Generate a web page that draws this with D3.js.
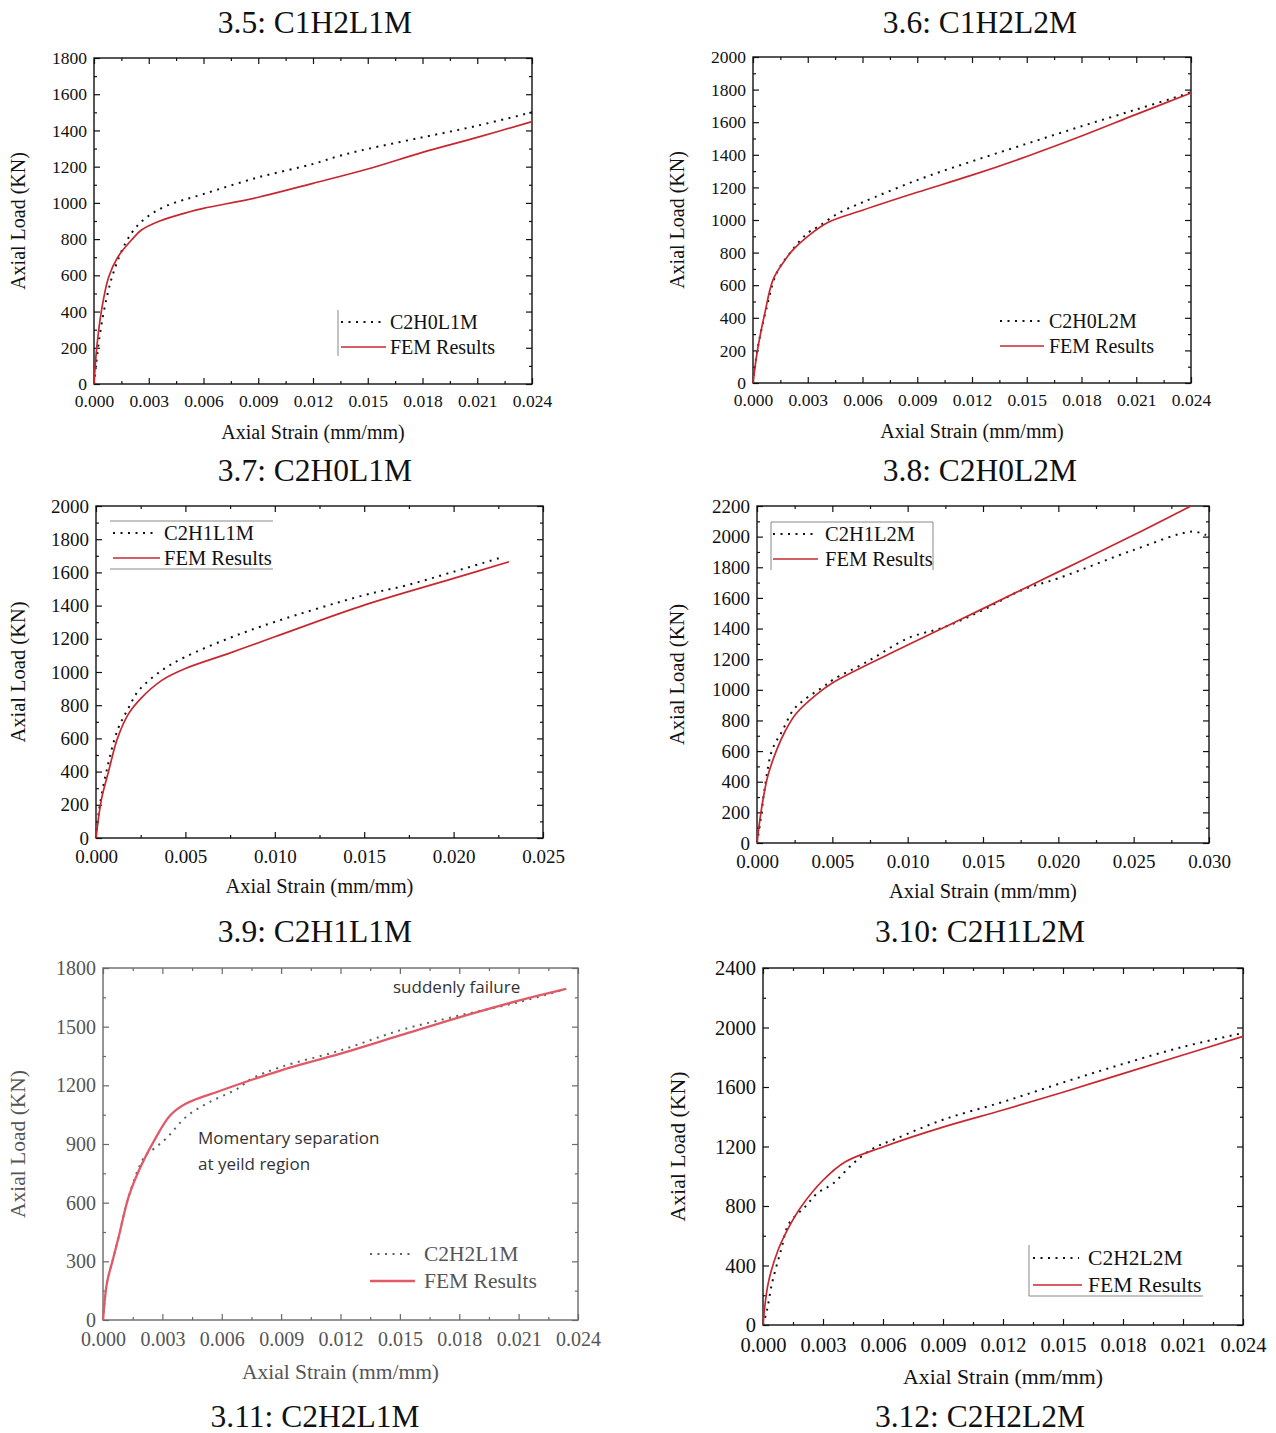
<!DOCTYPE html>
<html>
<head>
<meta charset="utf-8">
<script src="https://cdn.jsdelivr.net/npm/d3@7"></script>
<style>
  html, body { margin: 0; padding: 0; background: #fff; }
  svg { display: block; }
</style>
</head>
<body>
<svg id="chart" width="1276" height="1433"></svg>
<script>
// ---------- DATA ----------
const captions = ["3.5: C1H2L1M", "3.6: C1H2L2M", "3.7: C2H0L1M", "3.8: C2H0L2M",
                  "3.9: C2H1L1M", "3.10: C2H1L2M", "3.11: C2H2L1M", "3.12: C2H2L2M"];
const expNames = ["C2H0L1M", "C2H0L2M", "C2H1L1M", "C2H1L2M", "C2H2L1M", "C2H2L2M"];
const femName = "FEM Results";

// Panel 1: C2H0L1M
const p1Exp = [[0,0],[0.0003,258],[0.0007,479],[0.0011,626],[0.0017,773],[0.0023,865],[0.003,929],
  [0.004,985],[0.006,1049],[0.009,1141],[0.012,1215],[0.0134,1258],[0.015,1298],[0.018,1362],[0.021,1426],[0.024,1500]];
const p1Fem = [[0,0],[0.00015,200],[0.0004,400],[0.0008,590],[0.0013,700],[0.0021,800],[0.0026,850],[0.0036,900],
  [0.0052,950],[0.006,970],[0.009,1031],[0.012,1108],[0.015,1187],[0.018,1279],[0.021,1362],[0.024,1449]];
// Panel 2: C2H0L2M
const p2Exp = [[0,0],[0.00025,210],[0.0007,440],[0.0013,675],[0.0022,822],[0.003,920],[0.0036,961],
  [0.0047,1043],[0.006,1108],[0.009,1245],[0.012,1360],[0.015,1468],[0.018,1575],[0.021,1678],[0.0235,1765],[0.024,1785]];
const p2Fem = [[0,0],[0.00025,204],[0.00065,429],[0.0011,634],[0.0017,746],[0.0022,818],[0.003,900],
  [0.0041,985],[0.006,1060],[0.009,1170],[0.012,1275],[0.015,1390],[0.018,1515],[0.021,1648],[0.024,1779]];
// Panel 3: C2H1L1M
const p3Exp = [[0,0],[0.00017,167],[0.0006,408],[0.0012,649],[0.0018,780],[0.0024,890],[0.0037,1011],
  [0.005,1091],[0.0074,1202],[0.010,1302],[0.015,1463],[0.0174,1523],[0.020,1604],[0.0228,1694]];
const p3Fem = [[0,0],[0.0003,230],[0.0007,400],[0.0012,600],[0.0018,745],[0.0025,840],[0.0037,951],
  [0.005,1021],[0.0074,1111],[0.010,1212],[0.015,1403],[0.020,1564],[0.0231,1664]];
// Panel 4: C2H1L2M
const p4Exp = [[0,0],[0.0002,126],[0.00056,388],[0.001,606],[0.0017,736],[0.0024,867],[0.0031,932],
  [0.0044,1020],[0.005,1063],[0.0073,1183],[0.010,1336],[0.0125,1412],[0.015,1521],[0.0176,1652],
  [0.020,1728],[0.025,1913],[0.0289,2033],[0.0298,2010]];
const p4Fem = [[0,0],[0.00025,192],[0.0007,431],[0.0013,606],[0.0019,736],[0.0026,845],[0.0039,965],
  [0.005,1045],[0.010,1292],[0.015,1530],[0.020,1770],[0.025,2010],[0.0288,2200]];
// Panel 5: C2H2L1M
const p5Exp = [[0,0],[0.0002,190],[0.0005,309],[0.0008,428],[0.0013,632],[0.0021,835],[0.0026,878],
  [0.0032,929],[0.0042,1039],[0.0054,1115],[0.0068,1183],[0.0075,1234],[0.009,1294],[0.012,1379],
  [0.015,1481],[0.018,1557],[0.021,1625],[0.0234,1693]];
const p5Fem = [[0,0],[0.0002,190],[0.0005,309],[0.0008,428],[0.0013,632],[0.0019,784],[0.0026,920],
  [0.0034,1047],[0.0042,1107],[0.006,1175],[0.009,1277],[0.012,1362],[0.015,1455],[0.018,1548],
  [0.021,1633],[0.0234,1693]];
// Panel 6: C2H2L2M
const p6Exp = [[0,0],[0.0002,100],[0.00045,280],[0.0009,503],[0.0013,682],[0.0021,794],[0.0027,884],
  [0.0035,951],[0.0045,1085],[0.0055,1186],[0.0066,1250],[0.009,1380],[0.012,1500],[0.015,1630],
  [0.018,1755],[0.021,1870],[0.0238,1957]];
const p6Fem = [[0,0],[0.00026,280],[0.00075,503],[0.0013,660],[0.0019,794],[0.003,973],[0.0041,1096],
  [0.006,1197],[0.009,1330],[0.012,1445],[0.015,1565],[0.018,1690],[0.021,1815],[0.024,1940]];

// Tick values
const xTicks024 = [0, 0.003, 0.006, 0.009, 0.012, 0.015, 0.018, 0.021, 0.024];
const xTicks025 = [0, 0.005, 0.010, 0.015, 0.020, 0.025];
const xTicks030 = [0, 0.005, 0.010, 0.015, 0.020, 0.025, 0.030];
const yTicks1800 = [0, 200, 400, 600, 800, 1000, 1200, 1400, 1600, 1800];
const yTicks2000 = [0, 200, 400, 600, 800, 1000, 1200, 1400, 1600, 1800, 2000];
const yTicks2200 = [0, 200, 400, 600, 800, 1000, 1200, 1400, 1600, 1800, 2000, 2200];
const yTicks1800b = [0, 300, 600, 900, 1200, 1500, 1800];
const yTicks2400 = [0, 400, 800, 1200, 1600, 2000, 2400];

const annotations5 = ["suddenly failure", "Momentary separation", "at yeild region"];

// ---------- LAYOUT / STYLE ----------
const svg = d3.select("#chart");
const SERIF = "'Liberation Serif', 'Times New Roman', serif";
const SANS = "'Open Sans', 'Liberation Sans', sans-serif";

svg.append("rect").attr("width", 1276).attr("height", 1433).attr("fill", "#fff");

const captionPos = [[315,22],[980,22],[315,470],[980,470],[315,931],[980,931],[315,1416],[980,1416]];
captions.forEach((c, i) => {
  svg.append("text").attr("x", captionPos[i][0]).attr("y", captionPos[i][1])
    .attr("text-anchor", "middle").attr("dominant-baseline", "central")
    .style("font-family", SERIF).style("font-size", "31.5px").attr("fill", "#111").text(c);
});

const panels = [
  { L:94, R:532, T:58, B:384, xMax:0.024, yMax:1800, xT:xTicks024, yT:yTicks1800, xMinor:0.0015, yMinor:100,
    exp:p1Exp, fem:p1Fem, name:expNames[0], fs:17.5, tfs:20, xPad:11, xTitleY:432, yTitleX:18,
    leg:{x0:341, xd:382, x1:386, tx:390, y1:322, y2:347, fs:20}, legLines:[[338,310,338,356]] },
  { L:753, R:1191, T:57, B:383, xMax:0.024, yMax:2000, xT:xTicks024, yT:yTicks2000, xMinor:0.0015, yMinor:100,
    exp:p2Exp, fem:p2Fem, name:expNames[1], fs:17.5, tfs:20, xPad:11, xTitleY:431, yTitleX:677,
    leg:{x0:1000, xd:1040, x1:1044, tx:1049, y1:321, y2:346, fs:20}, legLines:[] },
  { L:96, R:543, T:506, B:838, xMax:0.025, yMax:2000, xT:xTicks025, yT:yTicks2000, xMinor:0.0025, yMinor:100,
    exp:p3Exp, fem:p3Fem, name:"C2H1L1M", fs:19, tfs:20.5, xPad:11.5, xTitleY:886, yTitleX:18,
    leg:{x0:113, xd:154, x1:160, tx:164, y1:533, y2:558, fs:20.5}, legLines:[[110,521,273,521],[110,569,273,569]] },
  { L:757, R:1209, T:506, B:843, xMax:0.030, yMax:2200, xT:xTicks030, yT:yTicks2200, xMinor:0.0025, yMinor:100,
    exp:p4Exp, fem:p4Fem, name:expNames[3], fs:19, tfs:20.5, xPad:11.5, xTitleY:891, yTitleX:677,
    leg:{x0:773, xd:816, x1:818, tx:825, y1:534, y2:559, fs:20.5}, legLines:[[771,522,771,570],[771,522,933,522],[933,522,933,570]] },
  { L:103, R:578, T:968, B:1320, xMax:0.024, yMax:1800, xT:xTicks024, yT:yTicks1800b, xMinor:0.0015, yMinor:150,
    exp:p5Exp, fem:p5Fem, name:"C2H2L1M", fs:20, tfs:21.5, xPad:12, xTitleY:1372, yTitleX:18, faded:true,
    leg:{x0:370, xd:413, x1:415, tx:424, y1:1254, y2:1281, fs:21.5}, legLines:[] },
  { L:763, R:1243, T:968, B:1325, xMax:0.024, yMax:2400, xT:xTicks024, yT:yTicks2400, xMinor:0.0015, yMinor:200,
    exp:p6Exp, fem:p6Fem, name:expNames[5], fs:20.5, tfs:21.8, xPad:12, xTitleY:1377, yTitleX:678,
    leg:{x0:1033, xd:1079, x1:1082, tx:1088, y1:1258, y2:1285, fs:21.6}, legLines:[[1029,1245,1029,1296],[1029,1296,1203,1296]] }
];

function drawPanel(p) {
  const axisColor = p.faded ? "#6a6a6a" : "#111";
  const textColor = p.faded ? "#555" : "#111";
  const redColor = p.faded ? "#e05a68" : "#c62830";
  const dotColor = p.faded ? "#556655" : "#111";

  const x = d3.scaleLinear().domain([0, p.xMax]).range([p.L, p.R]);
  const y = d3.scaleLinear().domain([0, p.yMax]).range([p.B, p.T]);
  const g = svg.append("g");

  const xMinorVals = d3.range(0, p.xMax + 1e-9, p.xMinor).filter(v => !p.xT.some(t => Math.abs(t - v) < 1e-9));
  const yMinorVals = d3.range(0, p.yMax + 1e-9, p.yMinor).filter(v => !p.yT.includes(v));

  function styleAxis(sel, showLabels) {
    sel.select(".domain").remove();
    sel.selectAll(".tick line").attr("stroke", axisColor).attr("stroke-width", 1.2);
    sel.selectAll(".tick text").style("font-family", SERIF).style("font-size", p.fs + "px")
      .attr("fill", textColor);
    if (!showLabels) sel.selectAll(".tick text").remove();
  }

  // bottom
  g.append("g").attr("transform", `translate(0,${p.B})`)
    .call(d3.axisBottom(x).tickValues(p.xT).tickFormat(d3.format(".3f")).tickSize(-6).tickPadding(p.xPad))
    .call(s => styleAxis(s, true));
  g.append("g").attr("transform", `translate(0,${p.B})`)
    .call(d3.axisBottom(x).tickValues(xMinorVals).tickSize(-3)).call(s => styleAxis(s, false));
  // top
  g.append("g").attr("transform", `translate(0,${p.T})`)
    .call(d3.axisTop(x).tickValues(p.xT).tickSize(-6)).call(s => styleAxis(s, false));
  g.append("g").attr("transform", `translate(0,${p.T})`)
    .call(d3.axisTop(x).tickValues(xMinorVals).tickSize(-3)).call(s => styleAxis(s, false));
  // left
  g.append("g").attr("transform", `translate(${p.L},0)`)
    .call(d3.axisLeft(y).tickValues(p.yT).tickFormat(d3.format("d")).tickSize(-6).tickPadding(7))
    .call(s => styleAxis(s, true));
  g.append("g").attr("transform", `translate(${p.L},0)`)
    .call(d3.axisLeft(y).tickValues(yMinorVals).tickSize(-3)).call(s => styleAxis(s, false));
  // right
  g.append("g").attr("transform", `translate(${p.R},0)`)
    .call(d3.axisRight(y).tickValues(p.yT).tickSize(-6)).call(s => styleAxis(s, false));
  g.append("g").attr("transform", `translate(${p.R},0)`)
    .call(d3.axisRight(y).tickValues(yMinorVals).tickSize(-3)).call(s => styleAxis(s, false));

  // frame
  g.append("rect").attr("x", p.L).attr("y", p.T).attr("width", p.R - p.L).attr("height", p.B - p.T)
    .attr("fill", "none").attr("stroke", axisColor).attr("stroke-width", 1.4);

  // curves
  const line = d3.line().x(d => x(d[0])).y(d => y(d[1])).curve(d3.curveCatmullRom.alpha(0.5));
  g.append("path").datum(p.exp).attr("d", line).attr("fill", "none")
    .attr("stroke", dotColor).attr("stroke-width", 2).attr("stroke-dasharray", "2,5.5");
  g.append("path").datum(p.fem).attr("d", line).attr("fill", "none")
    .attr("stroke", redColor).attr("stroke-width", p.faded ? 2.3 : 1.7);

  // axis titles
  g.append("text").attr("x", (p.L + p.R) / 2).attr("y", p.xTitleY)
    .attr("text-anchor", "middle").attr("dominant-baseline", "central")
    .style("font-family", SERIF).style("font-size", p.tfs + "px").attr("fill", textColor)
    .text("Axial Strain (mm/mm)");
  g.append("text").attr("transform", `translate(${p.yTitleX},${(p.T + p.B) / 2}) rotate(-90)`)
    .attr("text-anchor", "middle").attr("dominant-baseline", "central")
    .style("font-family", SERIF).style("font-size", p.tfs + "px").attr("fill", textColor)
    .text("Axial Load (KN)");

  // legend
  const lg = p.leg;
  p.legLines.forEach(l => g.append("line").attr("x1", l[0]).attr("y1", l[1]).attr("x2", l[2]).attr("y2", l[3])
    .attr("stroke", "#888").attr("stroke-width", 1));
  g.append("line").attr("x1", lg.x0).attr("x2", lg.xd).attr("y1", lg.y1).attr("y2", lg.y1)
    .attr("stroke", dotColor).attr("stroke-width", 2).attr("stroke-dasharray", "2,5.5");
  g.append("line").attr("x1", lg.x0).attr("x2", lg.x1).attr("y1", lg.y2).attr("y2", lg.y2)
    .attr("stroke", redColor).attr("stroke-width", p.faded ? 2.3 : 1.7);
  [[p.name, lg.y1], [femName, lg.y2]].forEach(([t, yy]) => {
    g.append("text").attr("x", lg.tx).attr("y", yy).attr("dominant-baseline", "central")
      .style("font-family", SERIF).style("font-size", lg.fs + "px").attr("fill", textColor).text(t);
  });
}

panels.forEach(drawPanel);

// annotations on panel 5
const annPos = [[393, 986], [198, 1137], [198, 1163]];
annotations5.forEach((t, i) => {
  svg.append("text").attr("x", annPos[i][0]).attr("y", annPos[i][1]).attr("dominant-baseline", "central")
    .style("font-family", SANS).style("font-size", "17px").attr("fill", "#333").text(t);
});
</script>
</body>
</html>
